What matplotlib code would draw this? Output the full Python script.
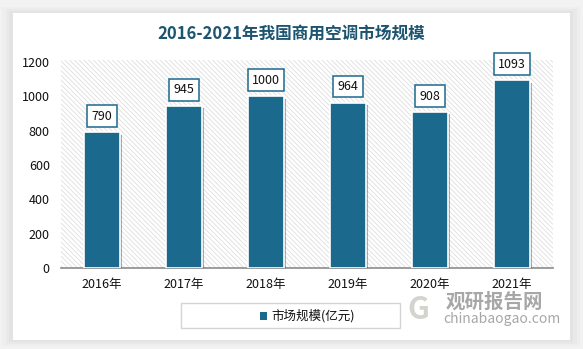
import matplotlib.pyplot as plt
from matplotlib.patches import Rectangle
import matplotlib.patheffects as pe

plt.rcParams['font.family'] = ['Noto Sans CJK SC', 'DejaVu Sans']
plt.rcParams['hatch.linewidth'] = 0.6

years = ['2016年', '2017年', '2018年', '2019年', '2020年', '2021年']
market_size = [790, 945, 1000, 964, 908, 1093]
yticks = [0, 200, 400, 600, 800, 1000, 1200]

bar_color = '#1b6a8e'
title_color = '#1d5470'

fig = plt.figure(figsize=(5.83, 3.49), dpi=100)
fig.patch.set_facecolor('#f2f2f2')

# white card with soft shadow
for i, a in enumerate([0.05, 0.07, 0.09]):
    d = 0.006 * (3 - i)
    fig.patches.append(Rectangle((0.022 - d, 0.026 - d), 0.955 + 2 * d, 0.937 + 2 * d,
                                 transform=fig.transFigure, facecolor='#b0b0b0',
                                 edgecolor='none', alpha=a, zorder=-2))
fig.patches.append(Rectangle((0.022, 0.026), 0.955, 0.937, transform=fig.transFigure,
                             facecolor='white', edgecolor='none', zorder=-1))

ax = fig.add_axes([0.1046, 0.232, 0.844, 0.59])
ax.set_zorder(1)
ax.set_facecolor('white')
# striped plot background
ax.add_patch(Rectangle((0, 0), 1, 1.01, transform=ax.transAxes, facecolor='white',
                       edgecolor='#dedede', linewidth=0, hatch='\\\\\\\\\\\\\\',
                       zorder=0, clip_on=False))

x = range(len(years))
bars = ax.bar(x, market_size, width=0.44, color=bar_color, edgecolor='white',
              linewidth=1.2, zorder=3,
              path_effects=[pe.SimplePatchShadow(offset=(1.5, -1.5), alpha=0.35),
                            pe.Normal()])

for xi, v in zip(x, market_size):
    ax.annotate(str(v), (xi, v), xytext=(0, 7), textcoords='offset points',
                ha='center', va='bottom', fontsize=9, color='#111111', zorder=5,
                bbox=dict(boxstyle='square,pad=0.35', facecolor='white',
                          edgecolor=bar_color, linewidth=1.1))

ax.set_xlim(-0.5, len(years) - 0.5)
ax.set_ylim(0, 1200)
ax.set_yticks(yticks)
ax.set_xticks(list(x))
ax.set_xticklabels(years)
ax.tick_params(axis='both', length=0, labelsize=9, colors='#111111')
ax.tick_params(axis='y', pad=8)
ax.tick_params(axis='x', pad=7)
for s in ['top', 'right', 'left']:
    ax.spines[s].set_visible(False)
ax.spines['bottom'].set_color('#8c8c8c')
ax.spines['bottom'].set_linewidth(1.2)

fig.text(0.5, 0.905, '2016-2021年我国商用空调市场规模', ha='center', va='center',
         fontsize=12, fontweight='bold', color=title_color)

# legend box
fig.patches.append(Rectangle((181 / 583, 1 - 328 / 349), 219 / 583, 25 / 349,
                             transform=fig.transFigure, facecolor='white',
                             edgecolor='#d4d4d4', linewidth=1.0, zorder=2))
fig.patches.append(Rectangle((260 / 583, 1 - 320 / 349), 7 / 583, 8 / 349,
                             transform=fig.transFigure, facecolor=bar_color,
                             edgecolor='none', zorder=3))
fig.text(271 / 583, 1 - 316 / 349, '市场规模(亿元)', ha='left', va='center',
         fontsize=9, color='#111111', zorder=4)

# watermark
fig.text(446 / 583, 1 - 302 / 349, '观研报告网', ha='left', va='center',
         fontsize=14, fontweight='bold', color='#8a8a8a', alpha=0.75, zorder=4)
fig.text(443 / 583, 1 - 319 / 349, 'chinabaogao.com', ha='left', va='center',
         fontsize=10, color='#8a8a8a', alpha=0.75, zorder=4)
fig.text(418 / 583, 1 - 310 / 349, 'G', ha='center', va='center',
         fontsize=22, fontweight='bold', color='#b8b8b0', alpha=0.6, zorder=4)

fig.savefig('out.png', dpi=100, facecolor=fig.get_facecolor())
